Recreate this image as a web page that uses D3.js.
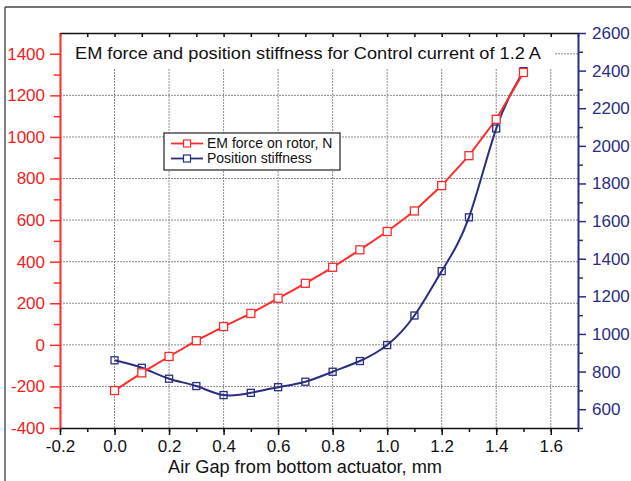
<!DOCTYPE html>
<html><head><meta charset="utf-8">
<script src="https://cdn.jsdelivr.net/npm/d3@7"></script>
<style>html,body{margin:0;padding:0;background:#fff;}svg{display:block;font-family:"Liberation Sans",Arial,sans-serif;}</style>
</head><body>
<svg id="c" width="631" height="481"></svg>
<script>
const title = "EM force and position stiffness for Control current of 1.2 A";
const xLabel = "Air Gap from bottom actuator, mm";
const seriesNames = ["EM force on rotor, N", "Position stiffness"];
const gap = [0.0,0.1,0.2,0.3,0.4,0.5,0.6,0.7,0.8,0.9,1.0,1.1,1.2,1.3,1.4,1.5];
const emForce = [-220,-135,-56,20,88,151,224,296,373,457,545,644,766,910,1085,1310];
const stiffness = [860,820,762,723,675,687,717,746,799,856,941,1098,1334,1620,2092,2397];
const xTicks = [-0.2,0.0,0.2,0.4,0.6,0.8,1.0,1.2,1.4,1.6];
const leftTicks = [-400,-200,0,200,400,600,800,1000,1200,1400];
const rightTicks = [600,800,1000,1200,1400,1600,1800,2000,2200,2400,2600];

const RED = "#ff2b2b", NAVY = "#2b2d80";
const svg = d3.select("#c");
const L = 60, R = 578, T = 33, B = 428;
const x = d3.scaleLinear().domain([-0.2, 1.7]).range([L, R]);
const yL = d3.scaleLinear().domain([-400, 1500]).range([B, T]);
const yR = d3.scaleLinear().domain([500, 2600]).range([B, T]);
const FONT = "Liberation Sans, Arial, sans-serif";

// outer frame
svg.append("line").attr("x1",5).attr("x2",631).attr("y1",7).attr("y2",7).attr("stroke","#444").attr("stroke-width",1.5);
svg.append("line").attr("x1",5).attr("x2",5).attr("y1",7).attr("y2",481).attr("stroke","#555").attr("stroke-width",1.5);

// grid
const grid = svg.append("g").attr("stroke","#8c8c8c").attr("stroke-width",1).attr("stroke-dasharray","2,1");
xTicks.filter(d=>d>-0.2).forEach(d=>grid.append("line").attr("x1",x(d)).attr("x2",x(d)).attr("y1",T).attr("y2",B));
leftTicks.filter(d=>d>-400).forEach(d=>grid.append("line").attr("x1",L).attr("x2",R).attr("y1",yL(d)).attr("y2",yL(d)));

// title box
svg.append("rect").attr("x",L+1).attr("y",T+1).attr("width",555-L-1).attr("height",69-T-1).attr("fill","#fff");
svg.append("text").attr("x",75).attr("y",59).attr("font-size",17).attr("fill","#111")
  .attr("textLength",466).attr("lengthAdjust","spacingAndGlyphs").text(title);

// axes
const minorX = d3.range(-0.2, 1.71, 0.1);
const fmtX = d => (d < 0 ? "-" : "") + Math.abs(d).toFixed(1);
const fmtY = d => String(d);
const gB = svg.append("g").attr("transform",`translate(0,${B})`)
  .call(d3.axisBottom(x).tickValues(xTicks).tickFormat(fmtX).tickSize(7).tickSizeOuter(0).tickPadding(5));
gB.selectAll(".tick text").attr("font-size",17).attr("fill","#111").attr("font-family",FONT);
gB.select(".domain").attr("stroke","#111").attr("stroke-width",1.5);
gB.selectAll(".tick line").attr("stroke","#111").attr("stroke-width",1.5);
svg.append("g").attr("transform",`translate(0,${B})`)
  .call(d3.axisBottom(x).tickValues(minorX).tickFormat("").tickSize(4).tickSizeOuter(0))
  .call(g=>{g.select(".domain").remove(); g.selectAll("line").attr("stroke","#111").attr("stroke-width",1.5);});
const gT = svg.append("g").attr("transform",`translate(0,${T})`)
  .call(d3.axisBottom(x).tickValues(minorX).tickFormat("").tickSize(4).tickSizeOuter(0));
gT.select(".domain").attr("stroke","#111").attr("stroke-width",1.5);
gT.selectAll("line").attr("stroke","#111").attr("stroke-width",1.5);

const gL = svg.append("g").attr("transform",`translate(${L},0)`)
  .call(d3.axisLeft(yL).tickValues(leftTicks).tickFormat(fmtY).tickSize(10).tickSizeOuter(0).tickPadding(5));
gL.selectAll(".tick text").attr("font-size",17).attr("fill","#f21c1c").attr("font-family",FONT);
gL.select(".domain").attr("stroke",RED).attr("stroke-width",2);
gL.selectAll(".tick line").attr("stroke",RED).attr("stroke-width",1.5);
svg.append("g").attr("transform",`translate(${L},0)`)
  .call(d3.axisLeft(yL).tickValues(d3.range(-300,1500,200)).tickFormat("").tickSize(6).tickSizeOuter(0))
  .call(g=>{g.select(".domain").remove(); g.selectAll("line").attr("stroke",RED).attr("stroke-width",1.5);});

const gR = svg.append("g").attr("transform",`translate(${R},0)`)
  .call(d3.axisRight(yR).tickValues(rightTicks).tickFormat(fmtY).tickSize(8).tickSizeOuter(0).tickPadding(6));
gR.selectAll(".tick text").attr("font-size",17).attr("fill",NAVY).attr("font-family",FONT);
gR.select(".domain").attr("stroke",NAVY).attr("stroke-width",2);
gR.selectAll(".tick line").attr("stroke",NAVY).attr("stroke-width",1.5);
svg.append("g").attr("transform",`translate(${R},0)`)
  .call(d3.axisRight(yR).tickValues(d3.range(500,2600,200)).tickFormat("").tickSize(5).tickSizeOuter(0))
  .call(g=>{g.select(".domain").remove(); g.selectAll("line").attr("stroke",NAVY).attr("stroke-width",1.5);});

svg.append("text").attr("x",305).attr("y",473).attr("text-anchor","middle").attr("font-size",17.5).attr("fill","#111")
  .attr("textLength",274).attr("lengthAdjust","spacingAndGlyphs").text(xLabel);

// series
const redData = gap.map((g,i)=>[g, emForce[i]]);
const blueData = gap.map((g,i)=>[g, stiffness[i]]);
svg.append("path").datum(blueData).attr("fill","none").attr("stroke",NAVY).attr("stroke-width",2)
  .attr("d", d3.line().x(d=>x(d[0])).y(d=>yR(d[1])).curve(d3.curveNatural));
svg.append("path").datum(redData).attr("fill","none").attr("stroke",RED).attr("stroke-width",2)
  .attr("d", d3.line().x(d=>x(d[0])).y(d=>yL(d[1])));
svg.append("g").selectAll("rect").data(blueData).join("rect")
  .attr("x",d=>x(d[0])-3.5).attr("y",d=>yR(d[1])-3.5).attr("width",7).attr("height",7)
  .attr("fill","none").attr("stroke",NAVY).attr("stroke-width",1.3);
svg.append("g").selectAll("rect").data(redData).join("rect")
  .attr("x",d=>x(d[0])-4).attr("y",d=>yL(d[1])-4).attr("width",8).attr("height",8)
  .attr("fill","#fff").attr("stroke",RED).attr("stroke-width",1.3);

// legend
const lg = svg.append("g");
lg.append("rect").attr("x",164).attr("y",133).attr("width",176).attr("height",37).attr("fill","#fff").attr("stroke","#222").attr("stroke-width",1.2);
[[RED,143.5],[NAVY,158.5]].forEach(([c,yy],i)=>{
  lg.append("line").attr("x1",171).attr("x2",203).attr("y1",yy).attr("y2",yy).attr("stroke",c).attr("stroke-width",1.8);
  lg.append("rect").attr("x",183.5).attr("y",yy-3.5).attr("width",7).attr("height",7).attr("fill","#fff").attr("stroke",c).attr("stroke-width",1.2);
  lg.append("text").attr("x",207).attr("y",yy+4.5).attr("font-size",14).attr("fill","#111").text(seriesNames[i]);
});
</script>
</body></html>
